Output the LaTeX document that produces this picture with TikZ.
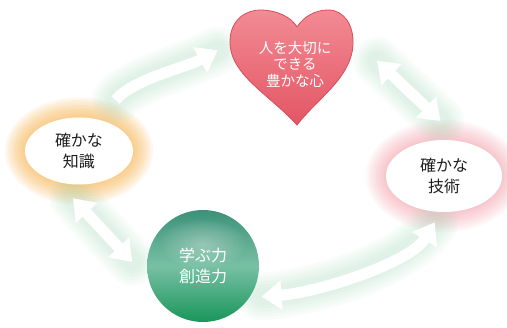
\documentclass[tikz,border=0pt]{standalone}
\usepackage{fontspec}
\setmainfont{Noto Sans CJK JP}
\usetikzlibrary{arrows.meta, shapes.geometric, backgrounds, positioning}

\definecolor{hearttop}{RGB}{243,138,148}
\definecolor{heartbot}{RGB}{226,86,100}
\definecolor{heartline}{RGB}{214,78,94}
\definecolor{orangeglow}{RGB}{245,165,50}
\definecolor{pinkglow}{RGB}{235,115,130}
\definecolor{greenglow}{RGB}{140,205,165}
\definecolor{sphtop}{RGB}{60,145,120}
\definecolor{sphmid}{RGB}{120,192,165}
\definecolor{sphbot}{RGB}{25,150,90}
\definecolor{textgray}{RGB}{30,30,30}

\begin{document}
\begin{tikzpicture}[x=1pt, y=-1pt, >={Triangle[width=28pt,length=20pt]},
  oval/.style={ellipse, fill=white, inner sep=0pt, align=center, text=textgray,
    font=\fontsize{16}{21}\selectfont},
  arr/.style={draw=white, line width=11pt},
  glowline/.style={draw=greenglow, opacity=.05, line cap=round}]
\useasboundingbox (0,0) rectangle (507,328);

% heart
\draw[heartline, line width=.8pt, top color=hearttop, bottom color=heartbot]
  (297,125) .. controls (270,95) and (230,75) .. (230,42)
  .. controls (230,18) and (248,10) .. (260,10)
  .. controls (278,10) and (292,18) .. (297,27)
  .. controls (304,16) and (316,10) .. (328,10)
  .. controls (344,10) and (354,25) .. (353,45)
  .. controls (351,78) and (318,98) .. (297,125) -- cycle;

% nodes
\node[minimum width=123pt, minimum height=115pt, text=white, align=center,
  font=\fontsize{14.5}{16.5}\selectfont] (kokoro) at (295,64) {人を大切に\\できる\\豊かな心};
\node[oval, minimum width=108pt, minimum height=67pt] (chishiki) at (79,151) {確かな\\知識};
\node[oval, minimum width=116pt, minimum height=72pt] (gijutsu) at (444,176) {確かな\\技術};
\node[circle, minimum size=112pt, inner sep=0pt, top color=sphtop, bottom color=sphbot,
  middle color=sphmid, text=white, align=center, font=\fontsize{16}{21}\selectfont,
  path picture={\foreach \k in {1,...,12}
    \fill[white, opacity=.035] ([yshift=22pt]path picture bounding box.center)
      ellipse [x radius=3.5*\k pt, y radius=2*\k pt];}] (manabi) at (203,266) {学ぶ力\\創造力};

% glows
\begin{scope}[on background layer]
\foreach \i in {1,...,8} {
  \fill[orangeglow, opacity=.09] (chishiki.center) ellipse [x radius=54+2.5*\i, y radius=33.5+2.5*\i];
  \fill[pinkglow, opacity=.06] (gijutsu.center) ellipse [x radius=58+2.5*\i, y radius=36+2.5*\i];
}
\foreach \w in {48,42,...,18} {
  \draw[glowline, line width=\w pt, shorten <=25pt, shorten >=18pt]
    (chishiki.55) .. controls +(30,-40) and +(-45,25) .. (kokoro.160);
  \draw[glowline, line width=\w pt, shorten <=28pt, shorten >=30pt] (kokoro.20) -- (gijutsu.62);
  \draw[glowline, line width=\w pt, shorten <=12pt, shorten >=12pt]
    (manabi.-34) .. controls +(70,-5) and +(-30,50) .. (gijutsu.265);
  \draw[glowline, line width=\w pt, shorten <=22pt, shorten >=24pt] (chishiki.236) -- (manabi.194);
}
\end{scope}

% arrows
\draw[arr, ->, shorten <=25pt, shorten >=18pt]
  (chishiki.55) .. controls +(30,-40) and +(-45,25) .. (kokoro.160);
\draw[arr, <->, shorten <=28pt, shorten >=30pt] (kokoro.20) -- (gijutsu.62);
\draw[arr, <->, shorten <=12pt, shorten >=12pt]
  (manabi.-34) .. controls +(70,-5) and +(-30,50) .. (gijutsu.265);
\draw[arr, <->, shorten <=22pt, shorten >=24pt] (chishiki.236) -- (manabi.194);
\end{tikzpicture}
\end{document}
